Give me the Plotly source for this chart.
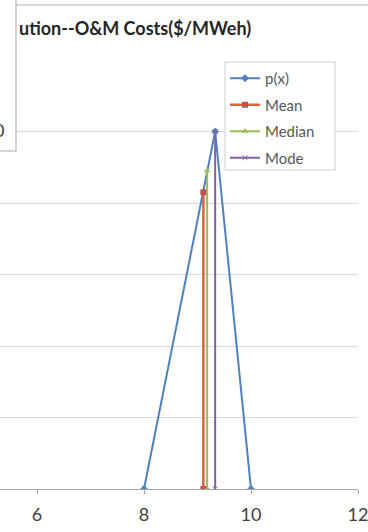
import plotly.graph_objects as go

# ---- data ----
px_x = [8, 9.33, 10]
px_y = [0, 1.0, 0]
mean_x = [9.11, 9.11]
mean_y = [0, 0.83]
median_x = [9.18, 9.18]
median_y = [0, 0.89]
mode_x = [9.33, 9.33]
mode_y = [0, 1.0]
x_ticks = [6, 8, 10, 12]
y_ticks = [0, 0.2, 0.4, 0.6, 0.8, 1.0, 1.2]
title_text = "ution--O&M Costs($/MWeh)"
series_names = ["p(x)", "Mean", "Median", "Mode"]

FONT = "Lato"
W, H = 368, 532
L, R, T, B = 0, 10, 60, 43
pw, ph = W - L - R, H - T - B

def pxx(p):
    return p / pw

def pyy(p):
    return (H - B - p) / ph

fig = go.Figure()
fig.add_trace(go.Scatter(x=px_x, y=px_y, name=series_names[0], mode="lines+markers",
                         line=dict(color="#4F81BD", width=2),
                         marker=dict(symbol="diamond", size=6, color="#4F81BD"),
                         legendgroup="a"))
fig.add_trace(go.Scatter(x=mean_x, y=mean_y, name=series_names[1], mode="lines+markers",
                         line=dict(color="#D8643A", width=2.5),
                         marker=dict(symbol="square", size=6, color="#C0504D"),
                         legendgroup="b"))
fig.add_trace(go.Scatter(x=median_x, y=median_y, name=series_names[2], mode="lines+markers",
                         line=dict(color="#9BBB59", width=2),
                         marker=dict(symbol="triangle-up", size=6, color="#9BBB59"),
                         legendgroup="c"))
fig.add_trace(go.Scatter(x=mode_x, y=mode_y, name=series_names[3], mode="lines+markers",
                         line=dict(color="#8064A2", width=2),
                         marker=dict(symbol="x-thin", size=5, color="#8064A2",
                                     line=dict(color="#8064A2", width=1)),
                         legendgroup="d"))

fig.update_layout(
    width=W, height=H,
    margin=dict(l=L, r=R, t=T, b=B, pad=0, autoexpand=False),
    paper_bgcolor="white", plot_bgcolor="white",
    font=dict(family=FONT, size=18, color="#404040"),
    showlegend=True,
    legend=dict(x=pxx(225), y=pyy(62), xanchor="left", yanchor="top",
                bgcolor="rgba(0,0,0,0)", borderwidth=0,
                font=dict(family=FONT, size=15, color="#595959"),
                tracegroupgap=4, itemwidth=30),
    xaxis=dict(range=[6 - 37 / 53.5, 12], tickvals=x_ticks,
               ticktext=[str(v) for v in x_ticks],
               showgrid=False, zeroline=False, showline=True,
               linecolor="#A6A6A6", linewidth=1,
               ticks="outside", ticklen=4, tickcolor="#A6A6A6",
               ticklabelstandoff=5, ticklabeloverflow="allow",
               tickfont=dict(family=FONT, size=18, color="#404040")),
    yaxis=dict(range=[0, 1.2], tickvals=y_ticks, showticklabels=False,
               showgrid=True, gridcolor="#D9D9D9", gridwidth=1,
               zeroline=False, showline=False),
    shapes=[
        dict(type="line", xref="paper", yref="paper",
             x0=pxx(16), x1=pxx(400), y0=pyy(5), y1=pyy(5),
             line=dict(color="#C8C8C8", width=1.5), layer="above"),
        dict(type="rect", xref="paper", yref="paper",
             x0=pxx(-20), x1=pxx(16), y0=pyy(151), y1=pyy(-20),
             fillcolor="white", line=dict(color="#C8C8C8", width=1.5), layer="above"),
        dict(type="rect", xref="paper", yref="paper",
             x0=pxx(225), x1=pxx(335), y0=pyy(170), y1=pyy(62),
             fillcolor="white", line=dict(color="#D0D0D0", width=1), layer="above"),
    ],
    annotations=[
        dict(text="<b>" + title_text + "</b>", xref="paper", yref="paper",
             x=pxx(17), y=pyy(28), xanchor="left", yanchor="middle",
             showarrow=False, font=dict(family=FONT, size=18, color="#262626")),
        dict(text="0", xref="paper", yref="paper",
             x=pxx(6), y=pyy(130), xanchor="right", yanchor="middle",
             showarrow=False, font=dict(family=FONT, size=18, color="#404040")),
    ],
)

fig.write_html("out.html", config={"displayModeBar": False},
               post_script="document.body.style.margin='0';document.body.style.padding='0';")
